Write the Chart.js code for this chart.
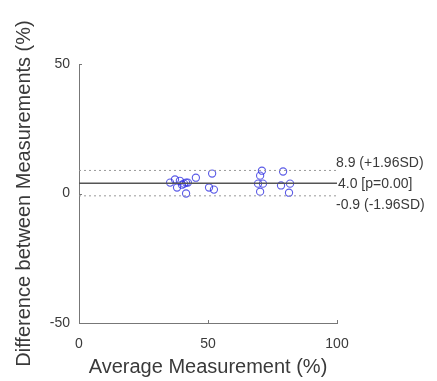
<!DOCTYPE html>
<html>
<head>
<meta charset="utf-8">
<script src="https://cdn.jsdelivr.net/npm/chart.js@4"></script>
<style>
html,body{margin:0;padding:0;background:#fff;}
#wrap{width:437px;height:381px;}
</style>
</head>
<body>
<div id="wrap"><canvas id="c" width="437" height="381"></canvas></div>
<script>
// Bland-Altman data
const avgMeasurement = [35.3, 37.2, 38.0, 39.1, 40.7, 39.9, 41.5, 41.5, 42.2, 45.3, 51.6, 50.4, 52.3, 70.9, 70.2, 69.4, 71.3, 70.2, 79.1, 78.3, 81.8, 81.4];
const diffMeasurement = [4.2, 5.4, 2.3, 4.9, 3.8, 3.4, 4.2, 0.0, 4.2, 6.1, 7.7, 2.3, 1.5, 8.8, 6.9, 3.8, 3.8, 0.7, 8.5, 3.1, 3.8, 0.3];
const meanDiff = 4.0;
const upperLoA = 8.9;
const lowerLoA = -0.9;
const refLabels = ['8.9 (+1.96SD)', '4.0 [p=0.00]', '-0.9 (-1.96SD)'];
const xTicks = [0, 50, 100];
const yTicks = [-50, 0, 50];
const xRange = [0, 100];
const yRange = [-50, 50];

const points = avgMeasurement.map((x, i) => ({x: x, y: diffMeasurement[i]}));
const hLine = v => xRange.map(x => ({x: x, y: v}));

const FONT = "'Liberation Sans', Arial, Helvetica, sans-serif";

const extrasPlugin = {
  id: 'extras',
  afterDatasetsDraw(chart) {
    const ctx = chart.ctx;
    const xs = chart.scales.x, ys = chart.scales.y;
    const area = chart.chartArea;
    ctx.save();
    // inward tick marks
    ctx.strokeStyle = '#777';
    ctx.lineWidth = 1;
    xTicks.forEach(t => {
      const px = Math.round(xs.getPixelForValue(t)) + 0.5;
      ctx.beginPath(); ctx.moveTo(px, area.bottom); ctx.lineTo(px, area.bottom - 3); ctx.stroke();
    });
    yTicks.forEach(t => {
      const py = Math.round(ys.getPixelForValue(t)) + 0.5;
      ctx.beginPath(); ctx.moveTo(area.left, py); ctx.lineTo(area.left + 3, py); ctx.stroke();
    });
    // reference line labels
    ctx.fillStyle = '#3a3a3a';
    ctx.font = '14px ' + FONT;
    ctx.textAlign = 'left';
    ctx.textBaseline = 'middle';
    const lx = area.right - 1;
    ctx.fillText(refLabels[0], lx, ys.getPixelForValue(upperLoA) - 7);
    ctx.fillText(refLabels[1], lx + 2, ys.getPixelForValue(meanDiff) + 1);
    ctx.fillText(refLabels[2], lx, ys.getPixelForValue(lowerLoA) + 9);
    ctx.restore();
  }
};

new Chart(document.getElementById('c'), {
  type: 'scatter',
  data: {
    datasets: [
      {
        label: 'upper',
        type: 'line',
        data: hLine(upperLoA),
        borderColor: '#999',
        borderWidth: 1,
        borderDash: [2, 3],
        pointRadius: 0,
        fill: false
      },
      {
        label: 'mean',
        type: 'line',
        data: hLine(meanDiff),
        borderColor: '#555',
        borderWidth: 1.5,
        pointRadius: 0,
        fill: false
      },
      {
        label: 'lower',
        type: 'line',
        data: hLine(lowerLoA),
        borderColor: '#999',
        borderWidth: 1,
        borderDash: [2, 3],
        pointRadius: 0,
        fill: false
      },
      {
        label: 'points',
        data: points,
        pointStyle: 'circle',
        pointRadius: 3.6,
        pointBorderWidth: 1.1,
        pointBorderColor: 'rgba(50,50,225,0.8)',
        pointBackgroundColor: 'rgba(0,0,0,0)',
        showLine: false
      }
    ]
  },
  options: {
    responsive: false,
    animation: false,
    events: [],
    layout: { padding: { top: 64, right: 100, bottom: 0, left: 0 } },
    plugins: { legend: { display: false }, tooltip: { enabled: false } },
    scales: {
      x: {
        type: 'linear',
        min: xRange[0], max: xRange[1],
        afterBuildTicks: s => { s.ticks = xTicks.map(v => ({value: v})); },
        afterFit: s => { s.height = 58; },
        grid: { display: false, drawTicks: false },
        border: { display: true, color: '#777', width: 1 },
        ticks: { color: '#3a3a3a', font: { family: FONT, size: 14 }, padding: 13, maxRotation: 0 },
        title: { display: true, text: 'Average Measurement (%)', color: '#3a3a3a', font: { family: FONT, size: 20 }, padding: { top: 0, bottom: 2 } }
      },
      y: {
        type: 'linear',
        min: yRange[0], max: yRange[1],
        afterBuildTicks: s => { s.ticks = yTicks.map(v => ({value: v})); },
        afterFit: s => { s.width = 79; },
        grid: { display: false, drawTicks: false },
        border: { display: true, color: '#777', width: 1 },
        ticks: { color: '#3a3a3a', font: { family: FONT, size: 14 }, padding: 9 },
        title: { display: true, text: 'Difference between Measurements (%)', color: '#3a3a3a', font: { family: FONT, size: 20 }, padding: { top: 12, bottom: 0 } }
      }
    }
  },
  plugins: [extrasPlugin]
});
</script>
</body>
</html>
